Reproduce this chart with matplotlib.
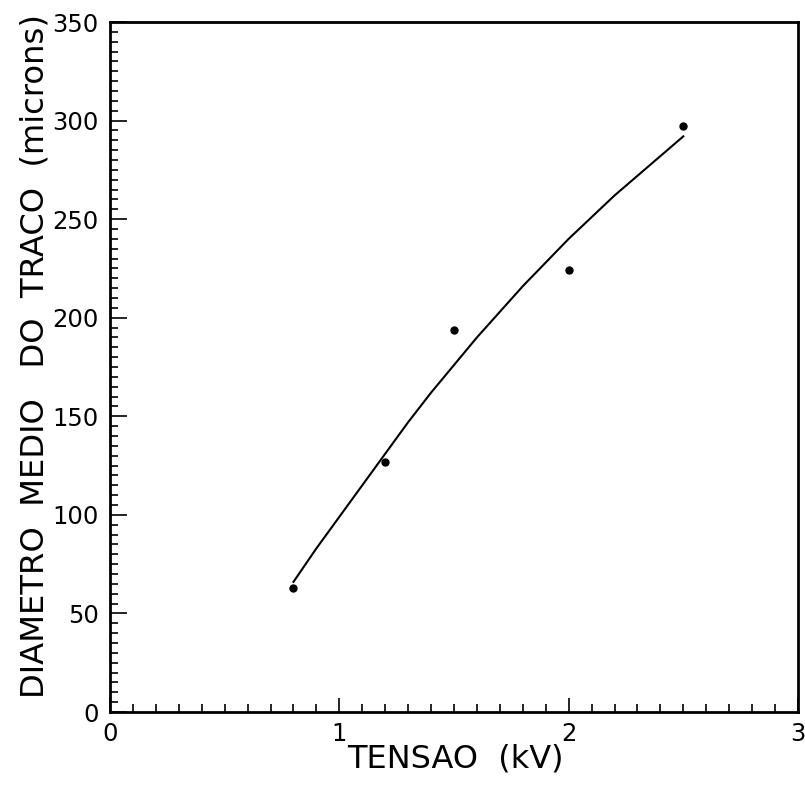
import matplotlib
matplotlib.use('Agg')
import matplotlib.pyplot as plt
from matplotlib.ticker import MultipleLocator

# measured points (tensao in kV, diametro in microns)
tensao = [0.8, 1.2, 1.5, 2.0, 2.5]
diametro = [63, 127, 194, 224, 297]

# fitted curve
curva_x = [0.8, 0.9, 1.0, 1.1, 1.2, 1.3, 1.4, 1.5, 1.6, 1.7,
           1.8, 1.9, 2.0, 2.1, 2.2, 2.3, 2.4, 2.5]
curva_y = [66, 83, 99, 115, 131, 147, 162, 176, 190, 203,
           216, 228, 240, 251, 262, 272, 282, 292]

x_ticks = [0, 1, 2, 3]
y_ticks = [0, 50, 100, 150, 200, 250, 300, 350]

plt.rcParams['font.family'] = ['DejaVu Sans']

fig = plt.figure(figsize=(8.05, 7.87), dpi=100)
ax = fig.add_axes([110 / 805, 1 - 712 / 787, 688 / 805, 690 / 787])

# fit line and the data dots
ax.plot(curva_x, curva_y, color='black', linewidth=1.5)
ax.plot(tensao, diametro, 'o', color='black', markersize=5)

ax.set_xlim(0, 3)
ax.set_ylim(0, 350)
ax.set_xticks(x_ticks)
ax.set_yticks(y_ticks)
ax.xaxis.set_minor_locator(MultipleLocator(0.1))
ax.yaxis.set_minor_locator(MultipleLocator(5))

# ticks point inwards, only on left and bottom
ax.tick_params(which='both', direction='in', top=False, right=False,
               labelsize=17.5, width=1.2, colors='black')
ax.tick_params(axis='x', which='major', length=10, pad=7)
ax.tick_params(axis='y', which='major', length=12, pad=8)
ax.tick_params(which='minor', length=6)

for s in ax.spines.values():
    s.set_linewidth(2.0)

# axis titles placed where they sit in the original
fig.text(455 / 805, 1 - 759 / 787, 'TENSAO  (kV)', fontsize=23,
         ha='center', va='center')
fig.text(35 / 805, 1 - 356 / 787, 'DIAMETRO  MEDIO   DO  TRACO  (microns)',
         fontsize=23.2, rotation=90, ha='center', va='center')

fig.savefig('out.png', dpi=100)
